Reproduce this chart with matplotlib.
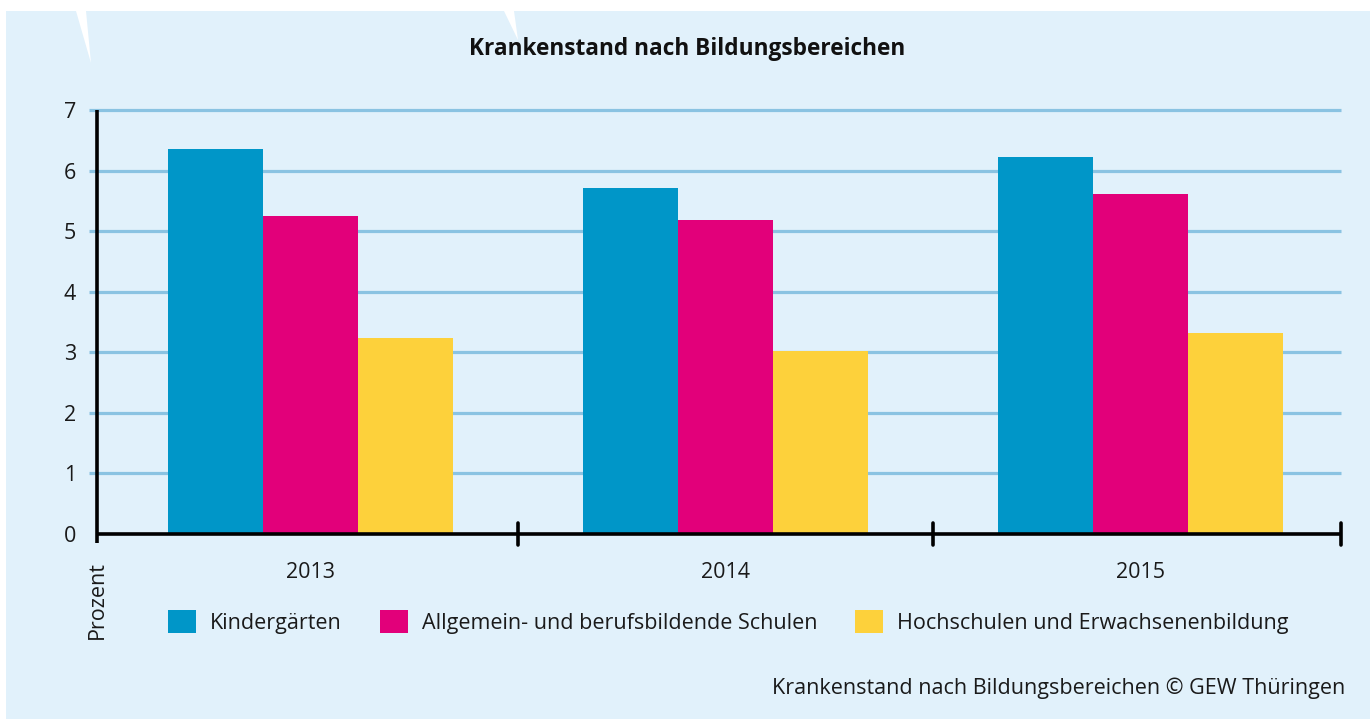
import matplotlib
matplotlib.use("Agg")
import matplotlib.pyplot as plt
from matplotlib.patches import Polygon, Rectangle
import numpy as np

plt.rcParams['font.family'] = ['Open Sans', 'DejaVu Sans']

years = ["2013", "2014", "2015"]
series_names = ["Kindergärten", "Allgemein- und berufsbildende Schulen",
                "Hochschulen und Erwachsenenbildung"]
kindergaerten = [6.36, 5.71, 6.22]
schulen = [5.25, 5.18, 5.61]
hochschulen = [3.24, 3.02, 3.32]
yticks = [0, 1, 2, 3, 4, 5, 6, 7]
title = "Krankenstand nach Bildungsbereichen"
ylabel = "Prozent"
footer = "Krankenstand nach Bildungsbereichen © GEW Thüringen"

colors = ["#0096c8", "#e2007a", "#fdd13b"]
bg = "#e1f1fb"
grid_c = "#8ac3e2"

W, H = 1370, 719
fig = plt.figure(figsize=(W / 100, H / 100), dpi=100)
fig.patch.set_facecolor("white")

# blue panel
fig.patches.append(Rectangle((6 / W, 0), 1 - 6 / W, 1 - 11 / H, transform=fig.transFigure,
                             facecolor=bg, edgecolor="none", zorder=-10))
# white decorative spikes
for pts in [[(76, 11), (86, 11), (91, 63)], [(504, 11), (514, 11), (518, 40)]]:
    fig.patches.append(Polygon([(x / W, 1 - y / H) for x, y in pts], closed=True,
                               transform=fig.transFigure, facecolor="white",
                               edgecolor="none", zorder=-9))

ax = fig.add_axes([97 / W, 1 - 534 / H, (1341 - 97) / W, (534 - 110) / H])
ax.set_facecolor("none")
for s in ax.spines.values():
    s.set_visible(False)

x = np.arange(len(years))
bw = 95 / 415
vals = [kindergaerten, schulen, hochschulen]
bars = []
for i, (v, c, n) in enumerate(zip(vals, colors, series_names)):
    b = ax.bar(x + (i - 1) * bw, v, width=bw, color=c, label=n, zorder=3)
    bars.append(b)

ax.set_xlim(-0.5 - 6 / 415, 2.5 - 7 / 415)
ax.set_ylim(0, 7)

# gridlines
for t in yticks[1:]:
    ax.plot([-8 / 1244, 1], [t, t], transform=ax.get_yaxis_transform(),
            color=grid_c, lw=2.3, clip_on=False, zorder=1, solid_capstyle="butt")

# axes lines
ax.plot([0, 0], [1.0, -9 / 424], transform=ax.transAxes, color="black", lw=2.6,
        clip_on=False, zorder=5, solid_capstyle="butt")
ax.plot([0, 1], [0, 0], transform=ax.transAxes, color="black", lw=2.6,
        clip_on=False, zorder=5, solid_capstyle="butt")
for xt in [0.5, 1.5]:
    ax.plot([xt, xt], [11 / 424, -11 / 424], transform=ax.get_xaxis_transform(),
            color="black", lw=2.6, clip_on=False, zorder=5, solid_capstyle="round")
ax.plot([1, 1], [11 / 424, -11 / 424], transform=ax.transAxes,
        color="black", lw=2.6, clip_on=False, zorder=5, solid_capstyle="round")

ax.set_yticks(yticks)
ax.set_yticklabels([str(t) for t in yticks])
ax.set_xticks(x)
ax.set_xticklabels(years)
ax.tick_params(axis="y", length=0, pad=15, labelsize=15.5, labelcolor="#1a1a1a")
ax.tick_params(axis="x", length=0, pad=20, labelsize=15.5, labelcolor="#1a1a1a")

fig.text(687 / W, 1 - 49 / H, title, ha="center", va="center", fontsize=16.3,
         fontweight="bold", color="#111111")
fig.text(97 / W, 1 - 600 / H, ylabel, ha="center", va="center", rotation=90,
         fontsize=15.5, color="#1a1a1a")
fig.text(1345 / W, 1 - 688 / H, footer, ha="right", va="center", fontsize=15.5,
         color="#1a1a1a")

leg = fig.legend(handles=bars, labels=series_names, loc="center left",
                 bbox_to_anchor=(168 / W, 1 - 622 / H), ncol=3, frameon=False,
                 fontsize=15.5, handlelength=1.3, handleheight=1.3,
                 handletextpad=0.64, columnspacing=1.78, borderpad=0, borderaxespad=0)
for t in leg.get_texts():
    t.set_color("#1a1a1a")

fig.savefig("out.png", dpi=100, facecolor=fig.get_facecolor())
